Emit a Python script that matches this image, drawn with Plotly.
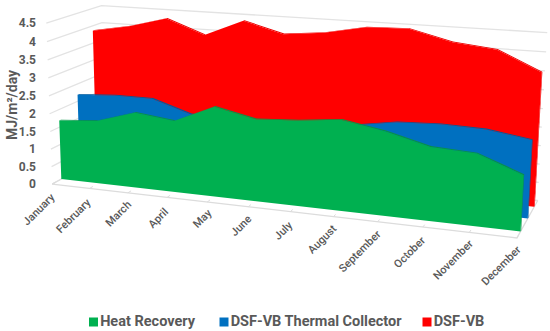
import numpy as np
import plotly.graph_objects as go

months = ["January", "February", "March", "April", "May", "June", "July",
          "August", "September", "October", "November", "December"]
heat_recovery = [1.69, 1.78, 2.11, 1.98, 2.47, 2.23, 2.30, 2.42, 2.22, 1.93, 1.87, 1.44]
thermal_collector = [2.19, 2.26, 2.26, 1.92, 1.85, 1.85, 1.88, 2.02, 2.20, 2.25, 2.22, 2.05]
dsf_vb = [3.86, 4.06, 4.35, 3.95, 4.42, 4.12, 4.23, 4.45, 4.48, 4.20, 4.08, 3.57]
y_ticks = [0, 0.5, 1, 1.5, 2, 2.5, 3, 3.5, 4, 4.5]

# --- 3D-to-page projection fitted to the frame of the chart (month, depth, value)
tick_x = [53, 91, 128, 168, 207, 248, 290, 333, 377, 423, 470, 517]
calib = [((m, 0, 0), (x, 183 + (x - 53) * 56 / 464)) for m, x in enumerate(tick_x)]
calib += [((0, 0, 4.5), (44, 24)), ((0, 1, 4.5), (103, 5)), ((11, 1, 4.5), (547, 33)),
          ((0, 1, 4), (103, 22)), ((11, 1, 4), (546, 52)), ((0, 1, 0), (103, 158)),
          ((11, 1, 0), (538, 198))]
A = []
for (X, Y, Z), (u, v) in calib:
    A.append([X, Y, Z, 1, 0, 0, 0, 0, -u * X, -u * Y, -u * Z, -u])
    A.append([0, 0, 0, 0, X, Y, Z, 1, -v * X, -v * Y, -v * Z, -v])
P = np.linalg.svd(np.array(A, float))[2][-1].reshape(3, 4)


def proj(m, d, v):
    h = P @ np.array([m, d, v, 1.0])
    return h[0] / h[2], h[1] / h[2]


def poly(points):
    pts = [proj(*p) for p in points]
    return [p[0] for p in pts] + [pts[0][0]], [p[1] for p in pts] + [pts[0][1]]


fig = go.Figure()
GRID = "#e3e3e3"

for v in y_ticks:
    pts = [proj(0, 0, v), proj(0, 1, v), proj(11, 1, v)]
    fig.add_trace(go.Scatter(x=[p[0] for p in pts], y=[p[1] for p in pts], mode="lines",
                             line=dict(color=GRID, width=1.3), hoverinfo="skip", showlegend=False))
pts = [proj(0, 1, 0), proj(0, 0, 0), proj(11, 0, 0), proj(11, 1, 0)]
fig.add_trace(go.Scatter(x=[p[0] for p in pts], y=[p[1] for p in pts], mode="lines",
                         line=dict(color="#dcdcdc", width=1.3), hoverinfo="skip", showlegend=False))
for m in range(12):
    pts = [proj(m, 0, 0), proj(m, 0.06, 0)]
    fig.add_trace(go.Scatter(x=[p[0] for p in pts], y=[p[1] for p in pts], mode="lines",
                             line=dict(color="#dcdcdc", width=1), hoverinfo="skip", showlegend=False))

series = [
    ("DSF-VB", dsf_vb, 0.82, "#ff0000", "#ee0000"),
    ("DSF-VB Thermal Collector", thermal_collector, 0.50, "#0070c0", "#005a9c"),
    ("Heat Recovery", heat_recovery, 0.16, "#00b050", "#079347"),
]
T = 0.03
for name, vals, d, color, dark in series:
    mm = range(12)
    # top edge band
    top = [(m, d, vals[m]) for m in mm] + [(m, d + T, vals[m]) for m in reversed(mm)]
    x, y = poly(top)
    fig.add_trace(go.Scatter(x=x, y=y, mode="none", fill="toself", fillcolor=dark,
                             hoverinfo="skip", showlegend=False))
    # right end face
    x, y = poly([(11, d, 0), (11, d + T, 0), (11, d + T, vals[11]), (11, d, vals[11])])
    fig.add_trace(go.Scatter(x=x, y=y, mode="none", fill="toself", fillcolor=dark,
                             hoverinfo="skip", showlegend=False))
    # front face
    face = [(m, d, vals[m]) for m in mm] + [(11, d, 0), (0, d, 0)]
    x, y = poly(face)
    fig.add_trace(go.Scatter(x=x, y=y, mode="none", fill="toself", fillcolor=color,
                             name=name, hoverinfo="name", showlegend=False))

TXT = "#595959"

# key below the chart
key_names = ["Heat Recovery", "DSF-VB Thermal Collector", "DSF-VB"]
key_colors = ["#00b050", "#0070c0", "#ff0000"]
key_x = [93.5, 224, 427]
for name, color, kx in zip(key_names, key_colors, key_x):
    fig.add_trace(go.Scatter(x=[kx], y=[322], mode="markers+text", name=name, text=[name],
                             textposition="middle right", hoverinfo="name", showlegend=False,
                             cliponaxis=False,
                             marker=dict(symbol="square", size=9, color=color),
                             textfont=dict(family="Roboto", size=14.5, color=TXT, weight="bold")))

for m, label in enumerate(months):
    tx, ty = proj(m, 0, 0)
    half = len(label) * 6.2 / 2 * 0.7071
    fig.add_annotation(x=tx - half + 2, y=ty + half + 10, text=label, textangle=-45, showarrow=False,
                       xref="x", yref="y", xanchor="center", yanchor="middle",
                       font=dict(family="Roboto", size=11, color=TXT, weight=500))

LEFT = 37
fig.add_annotation(x=(12 - LEFT) / (550 - LEFT), y=1 - 105 / 331, xref="paper", yref="paper",
                   text="MJ/m²/day", textangle=-90, showarrow=False,
                   xanchor="center", yanchor="middle",
                   font=dict(family="Roboto", size=14, color=TXT, weight="bold"))

fig.update_layout(
    width=550, height=331, margin=dict(l=LEFT, r=0, t=0, b=0),
    paper_bgcolor="white", plot_bgcolor="white",
    xaxis=dict(range=[LEFT, 550], visible=False, fixedrange=True),
    yaxis=dict(range=[331, 0], fixedrange=True, showgrid=False, zeroline=False, showline=False,
               tickmode="array", tickvals=[proj(0, 0, v)[1] for v in y_ticks],
               ticktext=[f"{v:g}" for v in y_ticks], ticks="", ticklen=0,
               tickfont=dict(family="Roboto", size=12, color=TXT, weight="bold")),
    showlegend=False,
)
fig.write_html("out.html", config={"displayModeBar": False},
               post_script="document.body.style.margin='0';")
